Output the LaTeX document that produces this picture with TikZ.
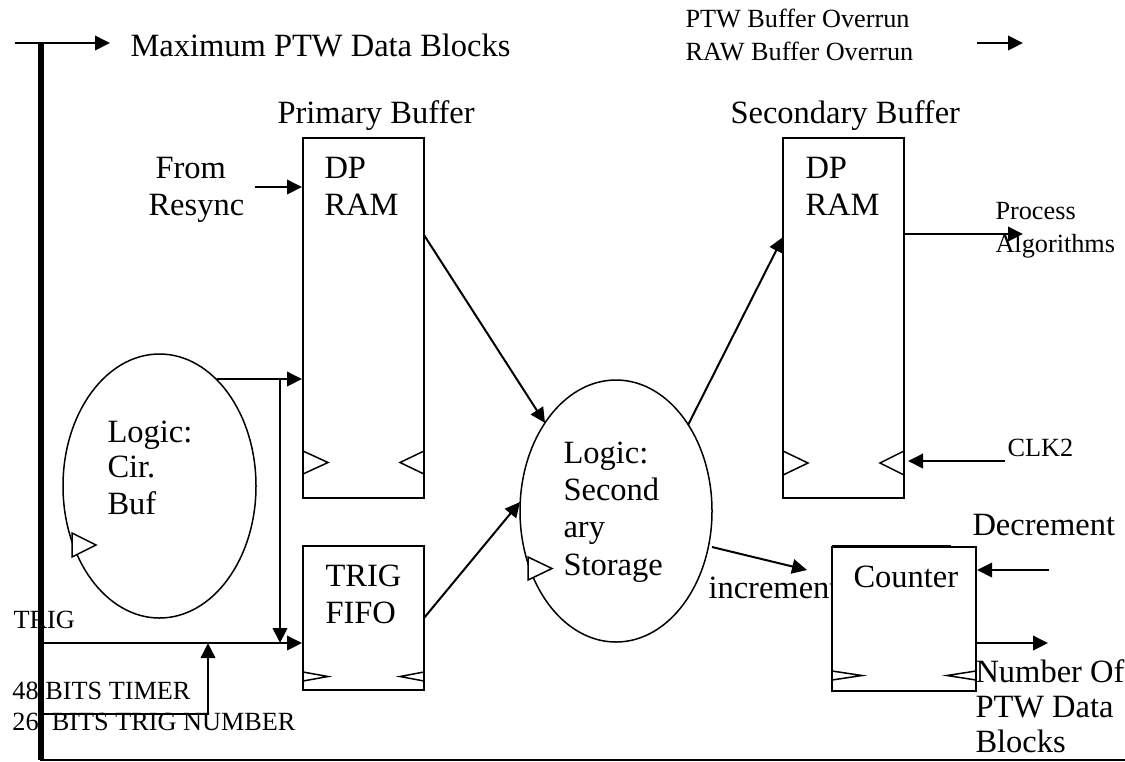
\documentclass[tikz,border=0pt]{standalone}
\usepackage{fontspec}
\setmainfont{Liberation Serif}
\usetikzlibrary{arrows.meta,shapes.geometric}
\begin{document}
\begin{tikzpicture}[x=0.4pt,y=-0.4pt,
  big/.style={font=\fontsize{13}{15}\selectfont, inner sep=0pt, anchor=base west},
  small/.style={font=\fontsize{10.5}{12.5}\selectfont, inner sep=0pt, anchor=base west},
  blk/.style={draw, line width=0.8pt, inner sep=0pt, minimum width=48.4pt},
  oval/.style={draw, ellipse, line width=0.6pt, inner sep=0pt},
  conn/.style={line width=0.8pt, -{Triangle[length=6pt,width=5.8pt]}},
  wire/.style={line width=0.8pt},
  clk/.style={line width=0.6pt},
  clkw/.style={line width=0.6pt, fill=white},
]
\useasboundingbox (0,0) rectangle (1125,761);

% blocks
\node[blk, minimum height=144pt] (prim) at (363.5,318) {};
\node[blk, minimum height=57.6pt] (fifo) at (363.5,618) {};
\node[blk, minimum height=144pt] (sec) at (843.5,318) {};
\node[oval, minimum width=77.2pt, minimum height=105.6pt] (cb) at (159.5,486) {};
\node[oval, minimum width=76.8pt, minimum height=104.8pt] (ss) at (616,511) {};

% increment label under counter box
\node[big] (tinc) at (708,598) {increment};
\node[blk, fill=white, minimum width=57.6pt, minimum height=57.6pt] (cnt) at (904,619) {};
\coordinate (notchA) at (832,545.6); \coordinate (notchB) at (951,545.6);
\draw[line width=0.6pt] (notchA) -- (notchB);

% texts
\node[big] (tmax) at (130,56.5) {Maximum PTW Data Blocks};
\node[small] (tov1) at (685,27) {PTW Buffer Overrun};
\node[small] (tov2) at (685,60) {RAW Buffer Overrun};
\node[big] (tpb) at (277,123) {Primary Buffer};
\node[big] (tsb) at (730,123) {Secondary Buffer};
\node[big] (tfrom) at (155,178) {From};
\node[big] (tres) at (148,215) {Resync};
\node[big] (tdp1) at (324,178) {DP};
\node[big] (tram1) at (324,215) {RAM};
\node[big] (tdp2) at (805,178) {DP};
\node[big] (tram2) at (805,215) {RAM};
\node[small] (tproc) at (995,219) {Process};
\node[small] (talg) at (995,252) {Algorithms};
\node[big] (tl1) at (107,442) {Logic:};
\node[big] (tl2) at (107,477) {Cir.};
\node[big] (tl3) at (107,514) {Buf};
\node[big] (ts1) at (563,463) {Logic:};
\node[big] (ts2) at (563,500) {Second};
\node[big] (ts3) at (563,537) {ary};
\node[big] (ts4) at (563,575) {Storage};
\node[small] (tclk) at (1007,456) {CLK2};
\node[big] (ttr) at (325,586) {TRIG};
\node[big] (tfi) at (325,623) {FIFO};
\node[big] (tcnt) at (853,587) {Counter};
\node[big] (tdec) at (972,535) {Decrement};
\node[big] (tn1) at (975,682) {Number Of};
\node[big] (tn2) at (975,717) {PTW Data};
\node[big] (tn3) at (975,752) {Blocks};
\node[small] (ttrig) at (13,628) {TRIG};
\node[small] (ttim) at (12,699) {48 BITS TIMER};
\node[small] (tnum) at (12,730) {26\ \ BITS TRIG NUMBER};

% clock marks
\draw[clk] (303,451) -- (328,462.5) -- (303,474);
\draw[clk] (424,451) -- (400,462.5) -- (424,474);
\draw[clk] (783,451) -- (808,463) -- (783,475);
\draw[clk] (904,451) -- (880,463) -- (904,475);
\draw[clk] (303,672) -- (328,676.5) -- (303,681);
\draw[clk] (424,672) -- (400,676.5) -- (424,681);
\draw[clk] (832,671) -- (862,675.5) -- (832,680);
\draw[clk] (976,671) -- (947,675.5) -- (976,680);
\draw[clkw] (72,533) -- (96,545) -- (72,557) -- cycle;
\draw[clkw] (528,557) -- (552,568.5) -- (528,580) -- cycle;

% coordinates
\coordinate (busT) at (41,43);
\coordinate (busB) at (41,760);
\coordinate (maxS) at (15,43);
\coordinate (maxE) at (110,43);
\coordinate (ovS) at (977,43);
\coordinate (ovE) at (1023,43);
\coordinate (rsS) at (255,187);
\coordinate (cbO) at (217,379);
\coordinate (tap) at (280,379);
\coordinate (trigS) at (41,643);
\coordinate (tapE) at (280,643);
\coordinate (timS) at (41,714);
\coordinate (timE) at (208,643);
\coordinate (primO) at (424,235);
\coordinate (ssI1) at (545,423);
\coordinate (fifoO) at (424,618);
\coordinate (ssI2) at (520,502);
\coordinate (ssO1) at (688,425);
\coordinate (secI) at (783,237);
\coordinate (ssO2) at (712,547);
\coordinate (cntI) at (807,570);
\coordinate (secO) at (904,234);
\coordinate (procE) at (1023,234);
\coordinate (clkS) at (1005,461);
\coordinate (clkE) at (908,461);
\coordinate (decS) at (1049,570);
\coordinate (cntO) at (976,643);
\coordinate (numE) at (1048,643);
\coordinate (botS) at (40,759.5);
\coordinate (botE) at (1125,759.5);

% connectors
\draw[line width=2.2pt] (busT) -- (busB);
\draw[wire] (botS) -- (botE);
\draw[conn] (maxS) -- (maxE);
\draw[conn] (ovS) -- (ovE);
\draw[conn] (rsS) -- (rsS -| prim.west);
\draw[conn] (cbO) -- (cbO -| prim.west);
\draw[conn] (tap) -- (tapE);
\draw[conn] (trigS) -- (trigS -| fifo.west);
\draw[conn] (timS) -| (timE);
\draw[conn] (primO) -- (ssI1);
\draw[conn] (fifoO) -- (ssI2);
\draw[conn] (ssO1) -- (secI);
\draw[conn] (ssO2) -- (cntI);
\draw[conn] (secO) -- (procE);
\draw[conn] (clkS) -- (clkE);
\draw[conn] (decS) -- (decS -| cnt.east);
\draw[conn] (cntO) -- (numE);
\end{tikzpicture}
\end{document}
